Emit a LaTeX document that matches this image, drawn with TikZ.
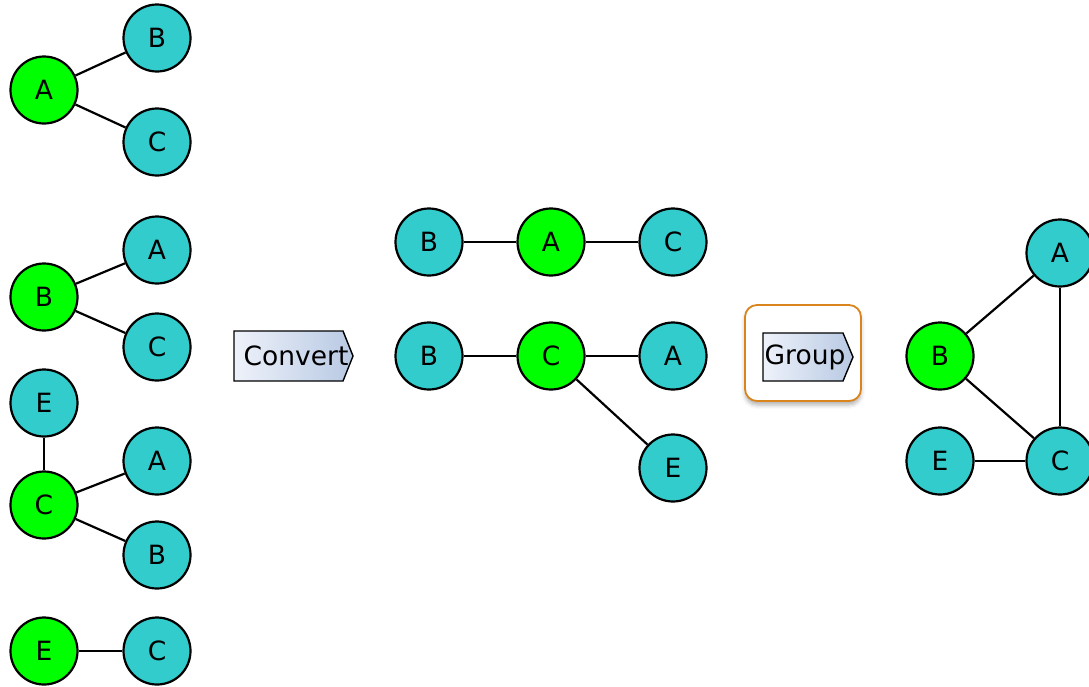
\documentclass[tikz,border=0pt]{standalone}
\usepackage{fontspec}
\setmainfont{DejaVu Sans}
\usetikzlibrary{shadows.blur}
\definecolor{nodeteal}{HTML}{33CCCC}
\definecolor{nodegreen}{HTML}{00FF00}
\definecolor{arrowleft}{HTML}{EEF2FA}
\definecolor{arrowright}{HTML}{B8C9E3}
\definecolor{selorange}{HTML}{D9841C}
\begin{document}
\begin{tikzpicture}[x=1pt,y=-1pt,
  vtx/.style={circle,draw=black,line width=2.2pt,minimum size=67pt,inner sep=0pt,
              font=\fontsize{26.5}{28}\selectfont},
  plain/.style={vtx,fill=nodeteal},
  root/.style={vtx,fill=nodegreen},
  edge/.style={line width=2.2pt},
  steparrow/.style={left color=arrowleft,right color=arrowright,draw=black,line width=1.4pt},
  steplabel/.style={font=\fontsize{26.5}{28}\selectfont,inner sep=0pt}]
\useasboundingbox (0,0) rectangle (1089,686);
\clip (0,0) rectangle (1089,686);

% --- input star graphs ---
\node[root]  (a1) at (44,90) {A};
\node[plain] (b1) at (157,38) {B};
\node[plain] (c1) at (157,142) {C};
\draw[edge] (a1) -- (b1);
\draw[edge] (a1) -- (c1);

\node[root]  (b2) at (44,297) {B};
\node[plain] (a2) at (157,250) {A};
\node[plain] (c2) at (157,347) {C};
\draw[edge] (b2) -- (a2);
\draw[edge] (b2) -- (c2);

\node[plain] (e3) at (44,403) {E};
\node[root]  (c3) at (44,505) {C};
\node[plain] (a3) at (157,461) {A};
\node[plain] (b3) at (157,555) {B};
\draw[edge] (c3) -- (e3);
\draw[edge] (c3) -- (a3);
\draw[edge] (c3) -- (b3);

\node[root]  (e4) at (44,651) {E};
\node[plain] (c4) at (157,651) {C};
\draw[edge] (e4) -- (c4);

% --- Convert step ---
\shade[steparrow]
  (234,331) -- (343,331) -- (353,356) -- (343,381) -- (234,381) -- cycle;
\node[steplabel] (convert) at (296,356) {Convert};

% --- converted graphs ---
\node[plain] (b5) at (429,242) {B};
\node[root]  (a5) at (551,242) {A};
\node[plain] (c5) at (673,242) {C};
\draw[edge] (b5) -- (a5);
\draw[edge] (a5) -- (c5);

\node[plain] (b6) at (429,356) {B};
\node[root]  (c6) at (551,356) {C};
\node[plain] (a6) at (673,356) {A};
\node[plain] (e6) at (673,468) {E};
\draw[edge] (b6) -- (c6);
\draw[edge] (c6) -- (a6);
\draw[edge] (c6) -- (e6);

% --- Group step (selected) ---
\filldraw[draw=selorange,fill=white,line width=1.8pt,rounded corners=12pt,
  blur shadow={shadow xshift=0pt,shadow yshift=-4pt,shadow blur radius=4pt,shadow opacity=30}]
  (745,305) rectangle (861,401);
\shade[steparrow]
  (763,333) -- (843,333) -- (853,357) -- (843,381) -- (763,381) -- cycle;
\node[steplabel] (group) at (805,357) {Group};

% --- grouped graph ---
\node[plain] (a7) at (1060,253) {A};
\node[root]  (b7) at (940,356) {B};
\node[plain] (e7) at (940,461) {E};
\node[plain] (c7) at (1060,461) {C};
\draw[edge] (b7) -- (a7);
\draw[edge] (b7) -- (c7);
\draw[edge] (a7) -- (c7);
\draw[edge] (e7) -- (c7);
\end{tikzpicture}
\end{document}
